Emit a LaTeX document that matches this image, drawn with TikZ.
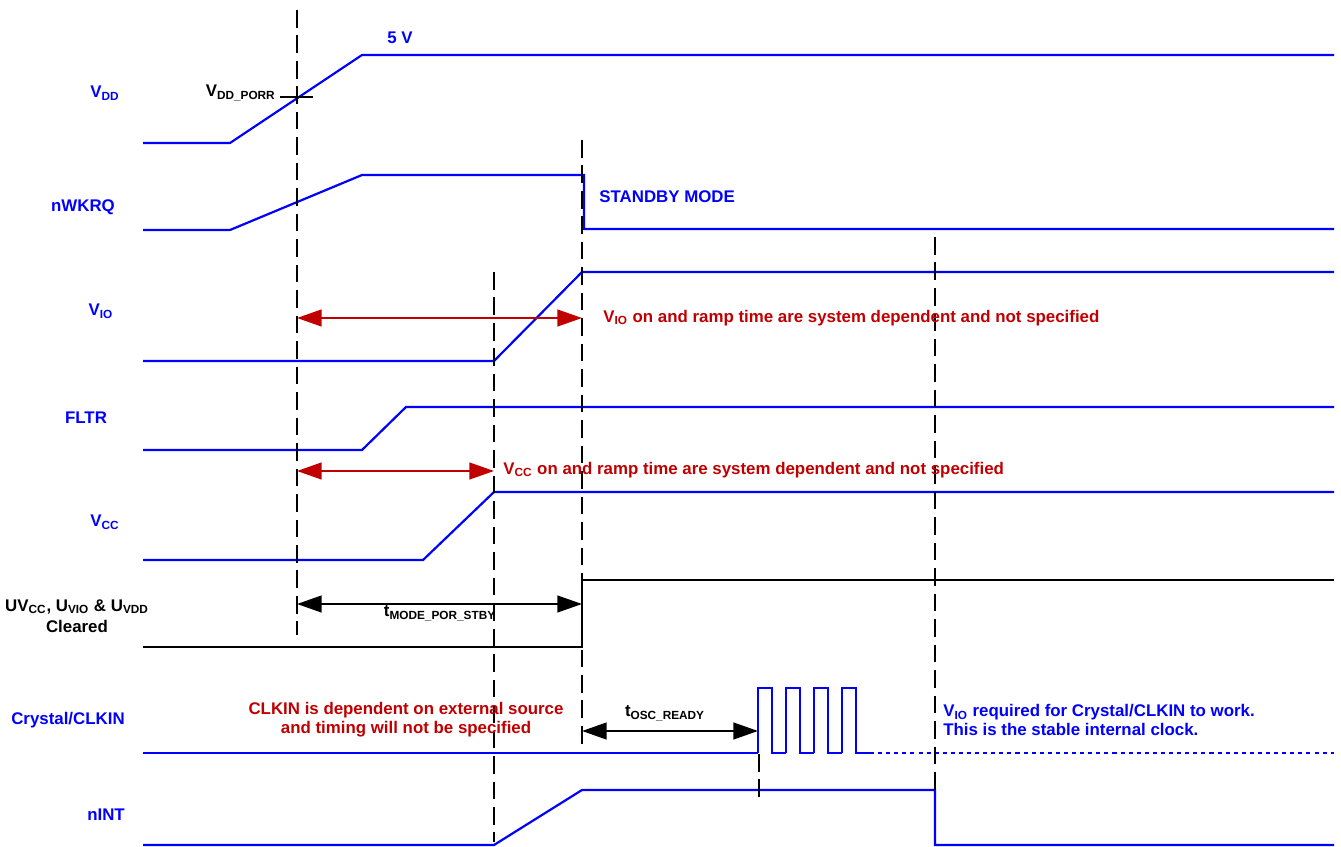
\documentclass[tikz,border=0pt]{standalone}
\usepackage{fontspec}
\setmainfont{Liberation Sans}
\usetikzlibrary{arrows.meta}
\definecolor{sigblue}{RGB}{0,0,255}
\definecolor{notered}{RGB}{192,0,0}
\newcommand{\lowtxt}[1]{\textsubscript{#1}}

\begin{document}
\begin{tikzpicture}[x=0.02cm, y=-0.02cm,
  wave/.style={sigblue, line width=1.25pt},
  flagwave/.style={black, line width=1.25pt},
  marker/.style={black, line width=1.6pt, dash pattern=on 10pt off 4.5pt},
  span/.style={line width=1.2pt, {Triangle[length=14pt,width=9.5pt]}-{Triangle[length=14pt,width=9.5pt]}},
  txt/.style={inner sep=0pt, font=\fontsize{9.6}{11}\selectfont\bfseries},
  siglabel/.style={txt, text=sigblue, align=center},
  rednote/.style={txt, text=notered, align=center}]
  \useasboundingbox (0,0) rectangle (1341,847);

  % signal names
  \node[siglabel] (lblVDD) at (105,93) {V\lowtxt{DD}};
  \node[siglabel] (lblWK) at (83,207) {nWKRQ};
  \node[siglabel] (lblVIO) at (101,311) {V\lowtxt{IO}};
  \node[siglabel] (lblFLTR) at (86,418) {FLTR};
  \node[siglabel] (lblVCC) at (105,522) {V\lowtxt{CC}};
  \node[txt, align=center, font=\fontsize{9.6}{12}\selectfont\bfseries] (lblUV) at (77,616)
    {UV\lowtxt{CC}, U\lowtxt{VIO} \& U\lowtxt{VDD}\\Cleared};
  \node[siglabel] (lblCLK) at (68,720) {Crystal/CLKIN};
  \node[siglabel] (lblINT) at (106,815) {nINT};

  % waveforms
  \draw[wave] (143,143) -- (230,143) -- (362,55) -- (1334,55);
  \draw[wave] (143,230) -- (230,230) -- (362,175) -- (584,175) -- (584,229) -- (1334,229);
  \draw[wave] (143,361) -- (494,361) -- (582,272) -- (1334,272);
  \draw[wave] (143,450) -- (362,450) -- (406,407) -- (1334,407);
  \draw[wave] (143,560) -- (423,560) -- (494,492) -- (1334,492);
  \draw[flagwave] (143,647) -- (582,647) -- (582,580) -- (1334,580);
  \draw[wave] (143,753) -- (758,753);
  \foreach \k in {0,...,3}
    \draw[wave] ({758+28*\k},753) -- ({758+28*\k},688) -- ({772+28*\k},688)
      -- ({772+28*\k},753) -- ({786+28*\k},753);
  \draw[wave] (856,753) -- (870,753);
  \draw[wave, dash pattern=on 2.3pt off 2.3pt] (870,753) -- (1334,753);
  \draw[wave] (143,845) -- (494,845) -- (582,790) -- (935,790) -- (935,845) -- (1334,845);

  % reference markers
  \draw[marker] (297,10) -- (297,635);
  \draw[marker] (582,140) -- (582,745);
  \draw[marker] (494,272) -- (494,842);
  \draw[marker] (935,237) -- (935,790);
  \draw[marker] (759,754) -- (759,800);
  \draw[black, line width=1.5pt] (280,97) -- (313,97);

  \coordinate (vioL) at (297,318);
  \coordinate (vioR) at (582,318);
  \coordinate (vccL) at (297,471);
  \coordinate (vccR) at (494,471);
  \coordinate (stbyL) at (297,604);
  \coordinate (stbyR) at (582,604);
  \coordinate (oscL) at (582,731);
  \coordinate (oscR) at (758,731);

  \draw[span, notered] (vioL) -- (vioR);
  \draw[span, notered] (vccL) -- (vccR);
  \draw[span, black] (stbyL) -- (stbyR);
  \draw[span, black] (oscL) -- (oscR);

  % annotations
  \node[txt, text=sigblue] (fivev) at (400,38) {5 V};
  \node[txt, anchor=east] (porr) at (276,93) {V\lowtxt{DD\_PORR}};
  \node[txt, text=sigblue, anchor=west] (stby) at (599,197) {STANDBY MODE};
  \node[txt, text=notered, anchor=west] (vionote) at (603,318)
    {V\lowtxt{IO} on and ramp time are system dependent and not specified};
  \node[txt, text=notered, anchor=west] (vccnote) at (503,470)
    {V\lowtxt{CC} on and ramp time are system dependent and not specified};
  \node[txt] (tstby) at (440,613) {t\lowtxt{MODE\_POR\_STBY}};
  \node[rednote, font=\fontsize{9.6}{11}\selectfont\bfseries] (clknote) at (406,720)
    {CLKIN is dependent on external source\\and timing will not be specified};
  \node[txt] (tosc) at (665,713) {t\lowtxt{OSC\_READY}};
  \node[txt, text=sigblue, anchor=west, align=left, font=\fontsize{9.6}{10.5}\selectfont\bfseries] (clkreq) at (943,720)
    {V\lowtxt{IO} required for Crystal/CLKIN to work.\\This is the stable internal clock.};
\end{tikzpicture}
\end{document}
